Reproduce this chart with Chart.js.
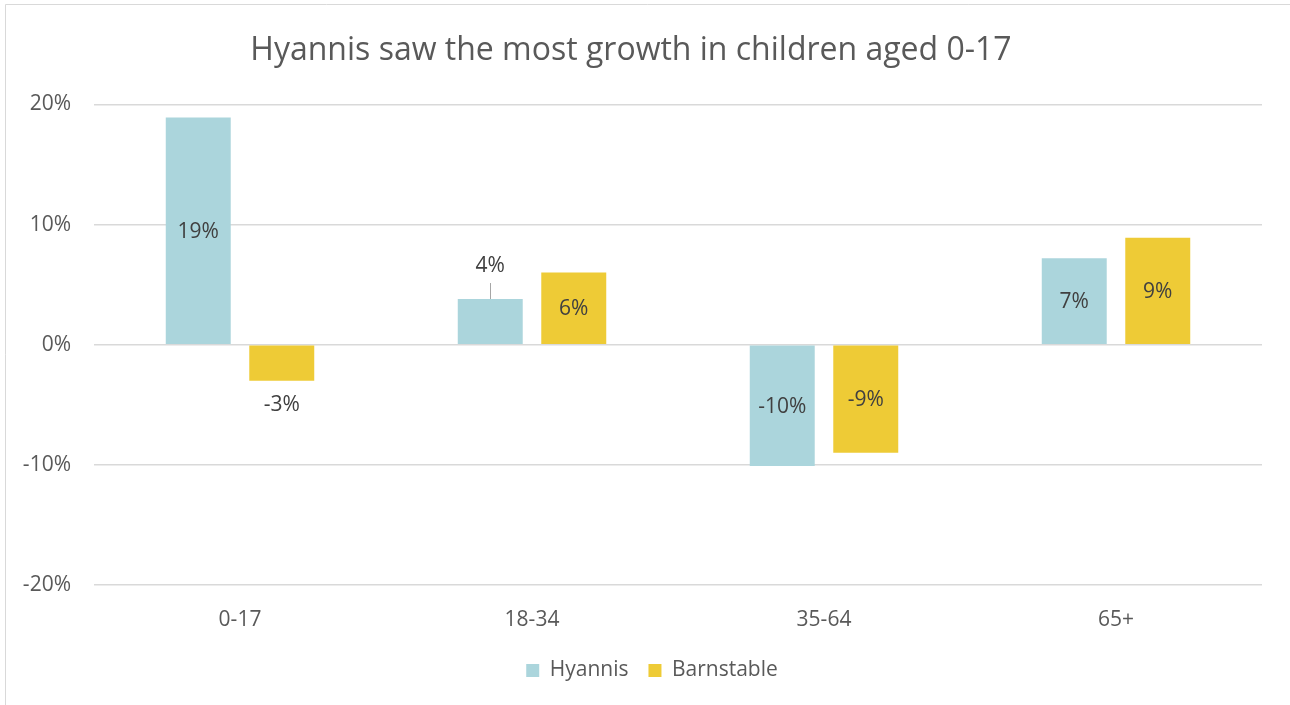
<!DOCTYPE html>
<html>
<head>
<meta charset="utf-8">
<script src="https://cdn.jsdelivr.net/npm/chart.js@4.4.0/dist/chart.umd.min.js"></script>
<style>
  html, body { margin: 0; padding: 0; background: #fff; overflow: hidden; }
  #wrap { width: 1290px; height: 705px; position: relative; }
</style>
</head>
<body>
<div id="wrap"><canvas id="chart" width="1290" height="705"></canvas></div>
<script>
const chartTitle = 'Hyannis saw the most growth in children aged 0-17';
const ageGroups = ['0-17', '18-34', '35-64', '65+'];
const hyannisGrowth = [18.9, 3.8, -10.1, 7.2];
const barnstableGrowth = [-3.0, 6.0, -9.0, 8.9];
const seriesNames = ['Hyannis', 'Barnstable'];
const seriesColors = ['#abd5dc', '#eecb36'];

const FONT = "'Open Sans', 'Noto Sans', sans-serif";

// frame around the chart like the Excel chart border
const framePlugin = {
  id: 'frame',
  afterLayout(chart) {
    // legend sits centred on the whole canvas, not the padded area
    chart.legend.left += 21;
    chart.legend.right += 21;
  },
  beforeDraw(chart) {
    const ctx = chart.ctx;
    ctx.save();
    ctx.fillStyle = '#fff';
    ctx.fillRect(0, 0, chart.width, chart.height);
    ctx.strokeStyle = '#d9d9d9';
    ctx.lineWidth = 1;
    ctx.beginPath();
    ctx.moveTo(5.5, chart.height);
    ctx.lineTo(5.5, 4.5);
    ctx.lineTo(chart.width, 4.5);
    ctx.stroke();
    ctx.restore();
  }
};

// data labels: centred in the bar, or outside the end for short bars
const labelPlugin = {
  id: 'barLabels',
  afterDatasetsDraw(chart) {
    const ctx = chart.ctx;
    ctx.save();
    ctx.font = '21px ' + FONT;
    ctx.fillStyle = '#404040';
    ctx.textAlign = 'center';
    ctx.textBaseline = 'middle';
    chart.data.datasets.forEach((ds, di) => {
      const meta = chart.getDatasetMeta(di);
      meta.data.forEach((bar, i) => {
        const v = ds.data[i];
        const txt = Math.round(v) + '%';
        const h = Math.abs(bar.base - bar.y);
        let y;
        if (h >= 50) {
          y = (bar.y + bar.base) / 2 + 1;
        } else if (v >= 0) {
          y = bar.y - 33;
          ctx.strokeStyle = '#a6a6a6';
          ctx.lineWidth = 1;
          ctx.beginPath();
          ctx.moveTo(Math.round(bar.x) + 0.5, bar.y - 16);
          ctx.lineTo(Math.round(bar.x) + 0.5, bar.y);
          ctx.stroke();
        } else {
          y = bar.y + 24;
        }
        ctx.fillText(txt, bar.x, y);
      });
    });
    ctx.restore();
  }
};

new Chart(document.getElementById('chart'), {
  type: 'bar',
  data: {
    labels: ageGroups,
    datasets: [
      { label: seriesNames[0], data: hyannisGrowth, backgroundColor: seriesColors[0] },
      { label: seriesNames[1], data: barnstableGrowth, backgroundColor: seriesColors[1] }
    ]
  },
  options: {
    responsive: false,
    animation: false,
    categoryPercentage: 0.572,
    barPercentage: 0.778,
    layout: { padding: { left: 0, right: 28, top: 0, bottom: 14 } },
    scales: {
      x: {
        afterFit(scale) { scale.height = 55; },
        grid: { display: false, drawTicks: false },
        border: { display: false },
        ticks: { color: '#595959', font: { family: FONT, size: 21 }, padding: 22 }
      },
      y: {
        min: -20,
        max: 20,
        afterFit(scale) { scale.width = 94; },
        grid: { color: '#d9d9d9', lineWidth: 1.5, drawTicks: false },
        border: { display: false },
        ticks: {
          stepSize: 10,
          padding: 23,
          color: '#595959',
          font: { family: FONT, size: 21 },
          callback: v => v + '%'
        }
      }
    },
    plugins: {
      title: {
        display: true,
        text: chartTitle,
        color: '#595959',
        font: { family: FONT, size: 32, weight: 'normal' },
        padding: { top: 32, bottom: 34 }
      },
      legend: {
        position: 'bottom',
        labels: {
          color: '#595959',
          font: { family: FONT, size: 21 },
          boxWidth: 13,
          boxHeight: 13,
          padding: 20
        }
      },
      tooltip: { enabled: false }
    }
  },
  plugins: [framePlugin, labelPlugin]
});
</script>
</body>
</html>
